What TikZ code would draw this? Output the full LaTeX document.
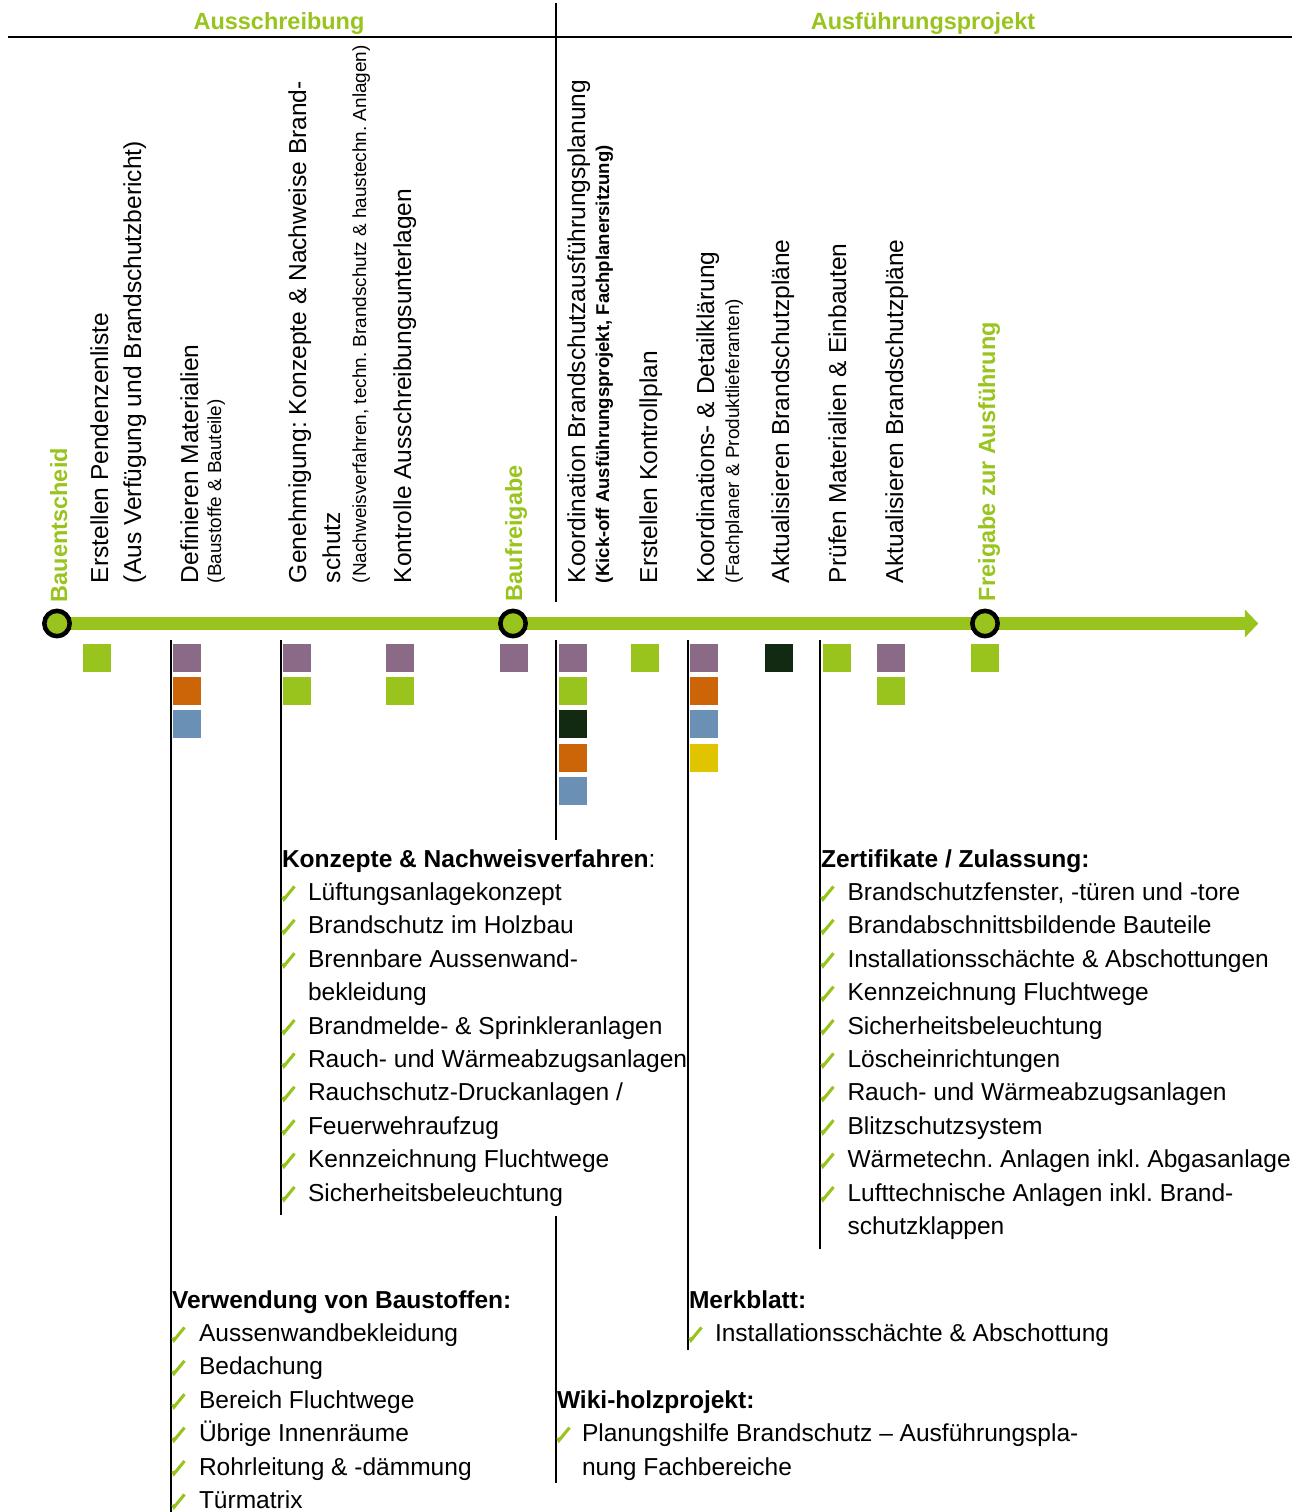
\documentclass[tikz,border=0pt]{standalone}
\usepackage{fontspec}
\setmainfont{Liberation Sans}
\usetikzlibrary{arrows.meta}
\definecolor{cgreen}{RGB}{153,195,29}
\definecolor{cpurple}{RGB}{139,106,135}
\definecolor{corange}{RGB}{204,100,8}
\definecolor{cblue}{RGB}{106,145,181}
\definecolor{cdark}{RGB}{18,42,18}
\definecolor{cyellow}{RGB}{224,196,0}
\frenchspacing
\begin{document}
\frenchspacing
\begin{tikzpicture}[x=0.75pt,y=-0.75pt,
  body/.style={font=\frenchspacing\fontsize{18.4}{22}\selectfont, anchor=base west, inner sep=0, outer sep=0},
  smalltxt/.style={font=\frenchspacing\fontsize{14.2}{17}\selectfont, anchor=base west, inner sep=0, outer sep=0},
  smallbold/.style={font=\frenchspacing\bfseries\fontsize{13.9}{17}\selectfont, anchor=base west, inner sep=0, outer sep=0},
  bhead/.style={font=\frenchspacing\bfseries\fontsize{18.4}{22}\selectfont, anchor=base west, inner sep=0, outer sep=0},
  vert/.style={rotate=90},
  mile/.style={font=\bfseries\fontsize{17.6}{21}\selectfont, text=cgreen, rotate=90, anchor=base west, inner sep=0, outer sep=0},
  phase/.style={font=\bfseries\fontsize{17.6}{21}\selectfont, text=cgreen, anchor=base, inner sep=0},
  sq/.style={minimum size=21pt, inner sep=0, draw=none},
  ms/.style={circle, draw=black, line width=3.4pt, fill=cgreen, minimum size=19pt, inner sep=0},
  vline/.style={line width=1.5pt, black},
  chk/.pic={\draw[cgreen, line width=2.3pt, line join=miter] (1.8,-3.8) -- (3,-1.2) -- (13.5,-14);}
]
\useasboundingbox (0,0) rectangle (1306,1512);

% header
\draw[line width=1.9pt] (8,37) -- (1292,37);
\draw[vline] (556,3) -- (556,602);
\node[phase] (ph1) at (279,29.5) {Ausschreibung};
\node[phase] (ph2) at (923,29.5) {Ausführungsprojekt};

% timeline
\coordinate (c1) at (57,623.5);
\coordinate (c2) at (513,623.5);
\coordinate (c3) at (985,623.5);
\coordinate (cend) at (1258.3,623.5);
\draw[cgreen, line width=9.75pt, -{Triangle[length=10pt,width=20.25pt]}] (c1) -- (c2) -- (c3) -- (cend);
\node[ms] (m1) at (c1) {};
\node[ms] (m2) at (c2) {};
\node[ms] (m3) at (c3) {};

% milestone labels
\node[mile] (l1) at (67,602) {Bauentscheid};
\node[mile] (l2) at (522,601) {Baufreigabe};
\node[mile] (l3) at (995,601) {Freigabe zur Ausführung};

% vertical task labels
\node[body, vert] (t1a) at (108,583) {Erstellen Pendenzenliste};
\node[body, vert] (t1b) at (141,583) {(Aus Verfügung und Brandschutzbericht)};
\node[body, vert] (t2a) at (198,583) {Definieren Materialien};
\node[smalltxt, vert] (t2b) at (221,583) {(Baustoffe \& Bauteile)};
\node[body, vert] (t3a) at (306,583) {Genehmigung: Konzepte \& Nachweise Brand-};
\node[body, vert] (t3b) at (340,583) {schutz};
\node[smalltxt, vert] (t3c) at (366,583) {(Nachweisverfahren, techn. Brandschutz \& haustechn. Anlagen)};
\node[body, vert] (t4) at (411,583) {Kontrolle Ausschreibungsunterlagen};
\node[body, vert] (t5a) at (585,583) {Koordination Brandschutzausführungsplanung};
\node[smallbold, vert] (t5b) at (609,583) {(Kick-off Ausführungsprojekt, Fachplanersitzung)};
\node[body, vert] (t6) at (657,583) {Erstellen Kontrollplan};
\node[body, vert] (t7a) at (714,583) {Koordinations- \& Detailklärung};
\node[smalltxt, vert] (t7b) at (739,583) {(Fachplaner \& Produktlieferanten)};
\node[body, vert] (t8) at (789,583) {Aktualisieren Brandschutzpläne};
\node[body, vert] (t9) at (846,583) {Prüfen Materialien \& Einbauten};
\node[body, vert] (t10) at (903,583) {Aktualisieren Brandschutzpläne};

% squares
\node[sq, fill=cgreen] (s1a) at (97,658) {};
\node[sq, fill=cpurple] (s2a) at (187,658) {};
\node[sq, fill=corange] (s2b) at (187,691) {};
\node[sq, fill=cblue] (s2c) at (187,724) {};
\node[sq, fill=cpurple] (s3a) at (297,658) {};
\node[sq, fill=cgreen] (s3b) at (297,691) {};
\node[sq, fill=cpurple] (s4a) at (400,658) {};
\node[sq, fill=cgreen] (s4b) at (400,691) {};
\node[sq, fill=cpurple] (s5a) at (514,658) {};
\node[sq, fill=cpurple] (s6a) at (572.5,658) {};
\node[sq, fill=cgreen] (s6b) at (572.5,691) {};
\node[sq, fill=cdark] (s6c) at (572.5,724) {};
\node[sq, fill=corange] (s6d) at (572.5,758) {};
\node[sq, fill=cblue] (s6e) at (572.5,791) {};
\node[sq, fill=cgreen] (s7a) at (645,658) {};
\node[sq, fill=cpurple] (s8a) at (704,658) {};
\node[sq, fill=corange] (s8b) at (704,691) {};
\node[sq, fill=cblue] (s8c) at (704,724) {};
\node[sq, fill=cyellow] (s8d) at (704,758) {};
\node[sq, fill=cdark] (s9a) at (779,658) {};
\node[sq, fill=cgreen] (s10a) at (837,658) {};
\node[sq, fill=cpurple] (s11a) at (891,658) {};
\node[sq, fill=cgreen] (s11b) at (891,691) {};
\node[sq, fill=cgreen] (s12a) at (985,658) {};

% vertical lines
\draw[vline] (171,640) -- (171,1512);
\draw[vline] (281,640) -- (281,1215);
\draw[vline] (556,640) -- (556,840);
\draw[vline] (556,1216) -- (556,1483);
\draw[vline] (688,640) -- (688,1350);
\draw[vline] (820,640) -- (820,1249);

% Konzepte block
\node[bhead] (k0) at (282,867) {Konzepte \& Nachweisverfahren\mdseries:};
\node[body] (k1) at (308,900.4) {Lüftungsanlagekonzept};
\node[body] (k2) at (308,933.8) {Brandschutz im Holzbau};
\node[body] (k3) at (308,967.2) {Brennbare Aussenwand-};
\node[body] (k3b) at (308,1000.6) {bekleidung};
\node[body] (k4) at (308,1034) {Brandmelde- \& Sprinkleranlagen};
\node[body] (k5) at (308,1067.4) {Rauch- und Wärmeabzugsanlagen};
\node[body] (k6) at (308,1100.8) {Rauchschutz-Druckanlagen /};
\node[body] (k7) at (308,1134.2) {Feuerwehraufzug};
\node[body] (k8) at (308,1167.6) {Kennzeichnung Fluchtwege};
\node[body] (k9) at (308,1201) {Sicherheitsbeleuchtung};
\foreach \yy in {900.4,933.8,967.2,1034,1067.4,1100.8,1134.2,1167.6,1201}
  \pic at (281,\yy) {chk};

% Zertifikate block
\node[bhead] (z0) at (821,867) {Zertifikate / Zulassung:};
\node[body] (z1) at (847.5,900.4) {Brandschutzfenster, -türen und -tore};
\node[body] (z2) at (847.5,933.8) {Brandabschnittsbildende Bauteile};
\node[body] (z3) at (847.5,967.2) {Installationsschächte \& Abschottungen};
\node[body] (z4) at (847.5,1000.6) {Kennzeichnung Fluchtwege};
\node[body] (z5) at (847.5,1034) {Sicherheitsbeleuchtung};
\node[body] (z6) at (847.5,1067.4) {Löscheinrichtungen};
\node[body] (z7) at (847.5,1100.8) {Rauch- und Wärmeabzugsanlagen};
\node[body] (z8) at (847.5,1134.2) {Blitzschutzsystem};
\node[body] (z9) at (847.5,1167.6) {Wärmetechn. Anlagen inkl. Abgasanlage};
\node[body] (z10) at (847.5,1201) {Lufttechnische Anlagen inkl. Brand-};
\node[body] (z10b) at (847.5,1234.4) {schutzklappen};
\foreach \yy in {900.4,933.8,967.2,1000.6,1034,1067.4,1100.8,1134.2,1167.6,1201}
  \pic at (820,\yy) {chk};

% Verwendung block
\node[bhead] (v0) at (172,1308) {Verwendung von Baustoffen:};
\node[body] (v1) at (199,1341.4) {Aussenwandbekleidung};
\node[body] (v2) at (199,1374.8) {Bedachung};
\node[body] (v3) at (199,1408.2) {Bereich Fluchtwege};
\node[body] (v4) at (199,1441.6) {Übrige Innenräume};
\node[body] (v5) at (199,1475) {Rohrleitung \& -dämmung};
\node[body] (v6) at (199,1508.4) {Türmatrix};
\foreach \yy in {1341.4,1374.8,1408.2,1441.6,1475,1508.4}
  \pic at (171,\yy) {chk};

% Merkblatt block
\node[bhead] (mb0) at (689,1308) {Merkblatt:};
\node[body] (mb1) at (715,1341.4) {Installationsschächte \& Abschottung};
\pic at (688,1341.4) {chk};

% Wiki block
\node[bhead] (w0) at (557,1408.2) {Wiki-holzprojekt:};
\node[body] (w1) at (582,1441.6) {Planungshilfe Brandschutz – Ausführungspla-};
\node[body] (w1b) at (582,1475) {nung Fachbereiche};
\pic at (556,1441.6) {chk};
\end{tikzpicture}
\end{document}
